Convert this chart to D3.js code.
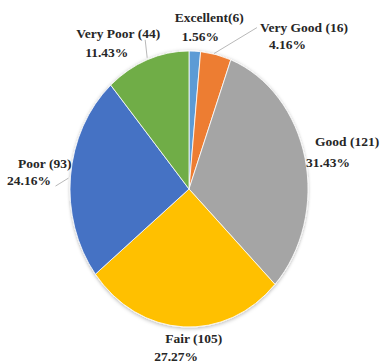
<!DOCTYPE html>
<html>
<head>
<meta charset="utf-8">
<script src="https://cdn.jsdelivr.net/npm/d3@7"></script>
<style>
  body { margin: 0; background: #fff; }
  .leader { stroke: #a6a6a6; stroke-width: 0.8; fill: none; }
</style>
</head>
<body>
<svg id="chart" width="383" height="364"></svg>
<script>
var categories = ['Excellent', 'Very Good', 'Good', 'Fair', 'Poor', 'Very Poor'];
var counts = [6, 16, 121, 105, 93, 44];
var percentLabels = ['1.56%', '4.16%', '31.43%', '27.27%', '24.16%', '11.43%'];
var nameLabels = ['Excellent(6)', 'Very Good (16)', 'Good (121)', 'Fair (105)', 'Poor (93)', 'Very Poor (44)'];

var colours = ['#5B9BD5', '#ED7D31', '#A5A5A5', '#FFC000', '#4472C4', '#70AD47'];

// label placement, offsets from the slice's outer edge point at its mid angle
var labelOffsets = {
    'Excellent': [-20, -29, -13, -10],
    'Very Good': [44, -23, 53, -6],
    'Good':      [10, -12, 1, 9],
    'Fair':      [-18, 16, -29, 34],
    'Poor':      [-52.5, -8, -63.5, 9],
    'Very Poor': [-71, -22, -62, -3]
};
var leaderOffsets = {
    'Very Good': [[-2, -1], [41, -27]],
    'Poor':      [[-2, 2], [-15, 10]],
    'Very Poor': [[0, -2], [-2, -20]]
};

var FONT = "'Liberation Serif', 'Times New Roman', Tinos, 'DejaVu Serif', serif";

var svg = d3.select('#chart');
var cx = 189, cy = 189, rx = 119, ry = 138;

var defs = svg.append('defs');
var shadow = defs.append('filter').attr('id', 'soft').attr('x', '-10%').attr('y', '-10%').attr('width', '120%').attr('height', '120%');
shadow.append('feDropShadow').attr('dx', 0).attr('dy', 1).attr('stdDeviation', 2)
    .attr('flood-color', '#000').attr('flood-opacity', 0.3);

var data = categories.map(function (c, i) {
    return { cat: c, value: counts[i], colour: colours[i], name: nameLabels[i], pct: percentLabels[i] };
});

var pie = d3.pie().sort(null).value(function (d) { return d.value; });
var arcs = pie(data);
var arc = d3.arc().innerRadius(0).outerRadius(ry);

var pieG = svg.append('g')
    .attr('transform', 'translate(' + cx + ',' + cy + ') scale(' + (rx / ry) + ',1)')
    .attr('filter', 'url(#soft)');

pieG.selectAll('path')
    .data(arcs)
    .enter()
    .append('path')
    .attr('d', arc)
    .attr('fill', function (d) { return d.data.colour; })
    .attr('stroke', '#fff')
    .attr('stroke-width', 0.8)
    .attr('vector-effect', 'non-scaling-stroke');

function edgePoint(d) {
    var a = (d.startAngle + d.endAngle) / 2;
    return [cx + rx * Math.sin(a), cy - ry * Math.cos(a)];
}

var labels = svg.append('g')
    .attr('font-family', FONT)
    .attr('font-weight', 'bold')
    .attr('font-size', 13.5)
    .attr('fill', '#262626');

arcs.forEach(function (d) {
    var p = edgePoint(d);
    var o = labelOffsets[d.data.cat];
    var lead = leaderOffsets[d.data.cat];

    if (lead) {
        labels.append('path')
            .attr('class', 'leader')
            .attr('d', d3.line()(lead.map(function (q) { return [p[0] + q[0], p[1] + q[1]]; })));
    }

    labels.append('text')
        .attr('x', p[0] + o[0]).attr('y', p[1] + o[1])
        .text(d.data.name);
    labels.append('text')
        .attr('x', p[0] + o[2]).attr('y', p[1] + o[3])
        .text(d.data.pct);
});
</script>
</body>
</html>
